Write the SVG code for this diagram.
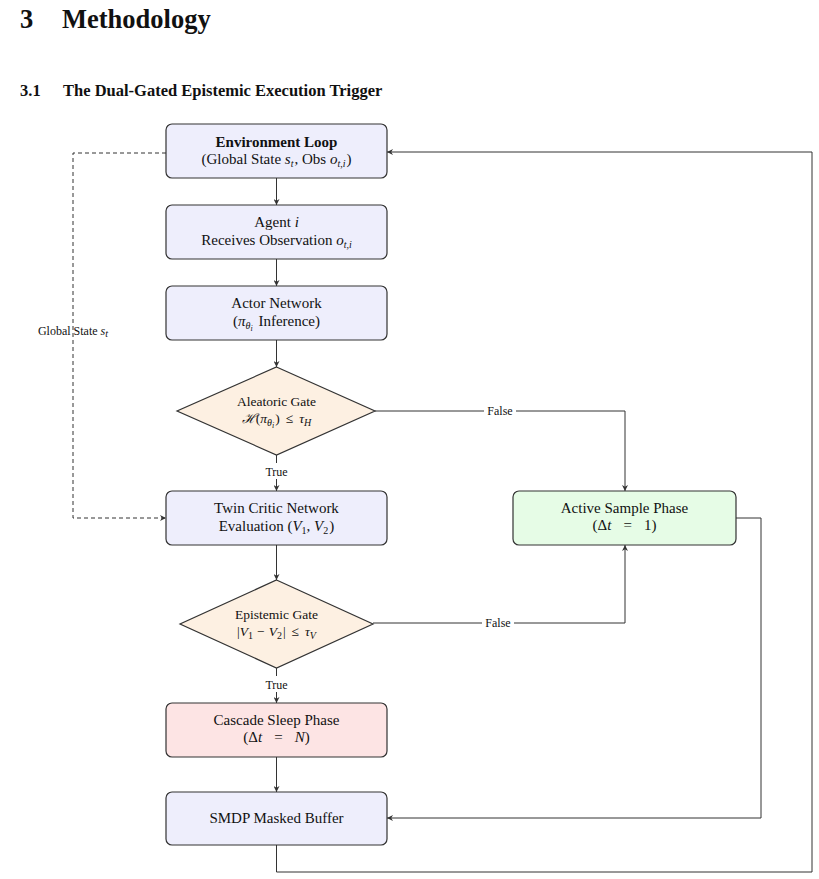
<svg xmlns="http://www.w3.org/2000/svg" width="819" height="879" viewBox="0 0 819 879">
<style>
  text { font-family: "Liberation Serif", "Times New Roman", serif; fill: #111; }
  .h1 { font-size: 26.5px; font-weight: bold; }
  .h2 { font-size: 16.5px; font-weight: bold; }
  .t { font-size: 15px; text-anchor: middle; }
  .d { font-size: 13.5px; text-anchor: middle; }
  .lbl { font-size: 12px; text-anchor: middle; }
  .b { font-weight: bold; }
  .i { font-style: italic; }
  .s { font-size: 10px; }
  .ss { font-size: 8px; }
  .box { stroke: #333; stroke-width: 1.2; }
  .blue { fill: #eeeefc; }
  .orange { fill: #fdf0e2; }
  .green { fill: #e6fce6; }
  .red { fill: #fde4e4; }
  .c { fill: none; stroke: #333; stroke-width: 1; }
  .dash { stroke-dasharray: 4 3; }
  .bg { fill: #fff; }
</style>
<defs>
  <marker id="arr" viewBox="0 0 10 10" refX="10" refY="5" markerWidth="6" markerHeight="6" markerUnits="userSpaceOnUse" orient="auto">
    <path d="M0,0 L10,5 L0,10 L3,5 Z" fill="#333"/>
  </marker>
</defs>

<g id="headings">
  <text class="h1" x="20" y="28">3</text>
  <text class="h1" x="62" y="28">Methodology</text>
  <text class="h2" x="20" y="96">3.1</text>
  <text class="h2" x="63" y="96">The Dual-Gated Epistemic Execution Trigger</text>
</g>

<g id="connectors">
  <path class="c" d="M276.5,178 V205" marker-end="url(#arr)"/>
  <path class="c" d="M276.5,259 V286" marker-end="url(#arr)"/>
  <path class="c" d="M276.5,340 V367" marker-end="url(#arr)"/>
  <path class="c" d="M276.5,455 V491" marker-end="url(#arr)"/>
  <path class="c" d="M276.5,545 V580" marker-end="url(#arr)"/>
  <path class="c" d="M276.5,668 V703" marker-end="url(#arr)"/>
  <path class="c" d="M276.5,757 V792" marker-end="url(#arr)"/>
  <path class="c" d="M375,411 H625 V491" marker-end="url(#arr)"/>
  <path class="c" d="M373,623 H625 V545" marker-end="url(#arr)"/>
  <path class="c" d="M736,518 H761 V818 H387" marker-end="url(#arr)"/>
  <path class="c" d="M276.5,845 V872 H812 V152 H387" marker-end="url(#arr)"/>
  <path class="c dash" d="M166,153 H73 V518 H166" marker-end="url(#arr)"/>
  <rect class="bg" x="263" y="463" width="28" height="16"/>
  <text class="lbl" x="276.5" y="476">True</text>
  <rect class="bg" x="263" y="676" width="28" height="16"/>
  <text class="lbl" x="276.5" y="689">True</text>
  <rect class="bg" x="484" y="403" width="32" height="16"/>
  <text class="lbl" x="500" y="415">False</text>
  <rect class="bg" x="482" y="615" width="32" height="16"/>
  <text class="lbl" x="498" y="627">False</text>
  <text class="lbl" x="73" y="335">Global State <tspan class="i">s</tspan><tspan class="i s" dy="2">t</tspan></text>
</g>

<g id="env">
  <rect class="box blue" x="166" y="124" width="221" height="54" rx="6"/>
  <text class="t b" x="276.5" y="147">Environment Loop</text>
  <text class="t" x="276.5" y="164">(Global State <tspan class="i">s</tspan><tspan class="i s" dy="3">t</tspan><tspan dy="-3" dx="1">, Obs </tspan><tspan class="i">o</tspan><tspan class="i s" dy="3">t,i</tspan><tspan dy="-3" dx="1">)</tspan></text>
</g>

<g id="agent">
  <rect class="box blue" x="166" y="205" width="221" height="54" rx="6"/>
  <text class="t" x="276.5" y="227">Agent <tspan class="i">i</tspan></text>
  <text class="t" x="276.5" y="245">Receives Observation <tspan class="i">o</tspan><tspan class="i s" dy="3">t,i</tspan></text>
</g>

<g id="actor">
  <rect class="box blue" x="166" y="286" width="221" height="54" rx="6"/>
  <text class="t" x="276.5" y="308">Actor Network</text>
  <text class="t" x="276.5" y="326">(<tspan class="i">π</tspan><tspan class="i s" dy="3">θ</tspan><tspan class="i ss" dy="2">i</tspan><tspan dy="-5" dx="2"> Inference)</tspan></text>
</g>

<g id="aleatoric">
  <polygon class="box orange" points="276.5,367 375,411 276.5,455 177,411"/>
  <text class="d" x="276.5" y="406">Aleatoric Gate</text>
  <text class="d" x="276.5" y="423"><tspan class="i">ℋ</tspan>(<tspan class="i">π</tspan><tspan class="i s" dy="3">θ</tspan><tspan class="i ss" dy="2">i</tspan><tspan dy="-5" dx="1">)</tspan><tspan dx="6">≤</tspan><tspan class="i" dx="6">τ</tspan><tspan class="i s" dy="3">H</tspan></text>
</g>

<g id="twin">
  <rect class="box blue" x="166" y="491" width="221" height="54" rx="6"/>
  <text class="t" x="276.5" y="513">Twin Critic Network</text>
  <text class="t" x="276.5" y="531">Evaluation (<tspan class="i">V</tspan><tspan class="s" dy="3">1</tspan><tspan dy="-3">, </tspan><tspan class="i">V</tspan><tspan class="s" dy="3">2</tspan><tspan dy="-3" dx="1">)</tspan></text>
</g>

<g id="epistemic">
  <polygon class="box orange" points="276.5,580 373,624 276.5,668 180,624"/>
  <text class="d" x="276.5" y="619">Epistemic Gate</text>
  <text class="d" x="276.5" y="636">|<tspan class="i">V</tspan><tspan class="s" dy="3">1</tspan><tspan dy="-3" dx="4">−</tspan><tspan class="i" dx="4">V</tspan><tspan class="s" dy="3">2</tspan><tspan dy="-3" dx="1">|</tspan><tspan dx="6">≤</tspan><tspan class="i" dx="6">τ</tspan><tspan class="i s" dy="3">V</tspan></text>
</g>

<g id="active">
  <rect class="box green" x="513" y="491" width="223" height="54" rx="6"/>
  <text class="t" x="624.5" y="513">Active Sample Phase</text>
  <text class="t" x="624.5" y="530">(Δ<tspan class="i">t</tspan><tspan dx="12">=</tspan><tspan dx="12">1)</tspan></text>
</g>

<g id="cascade">
  <rect class="box red" x="166" y="703" width="221" height="54" rx="6"/>
  <text class="t" x="276.5" y="725">Cascade Sleep Phase</text>
  <text class="t" x="276.5" y="742">(Δ<tspan class="i">t</tspan><tspan dx="12">=</tspan><tspan class="i" dx="12">N</tspan>)</text>
</g>

<g id="smdp">
  <rect class="box blue" x="166" y="792" width="221" height="53" rx="6"/>
  <text class="t" x="276.5" y="823">SMDP Masked Buffer</text>
</g>
</svg>
